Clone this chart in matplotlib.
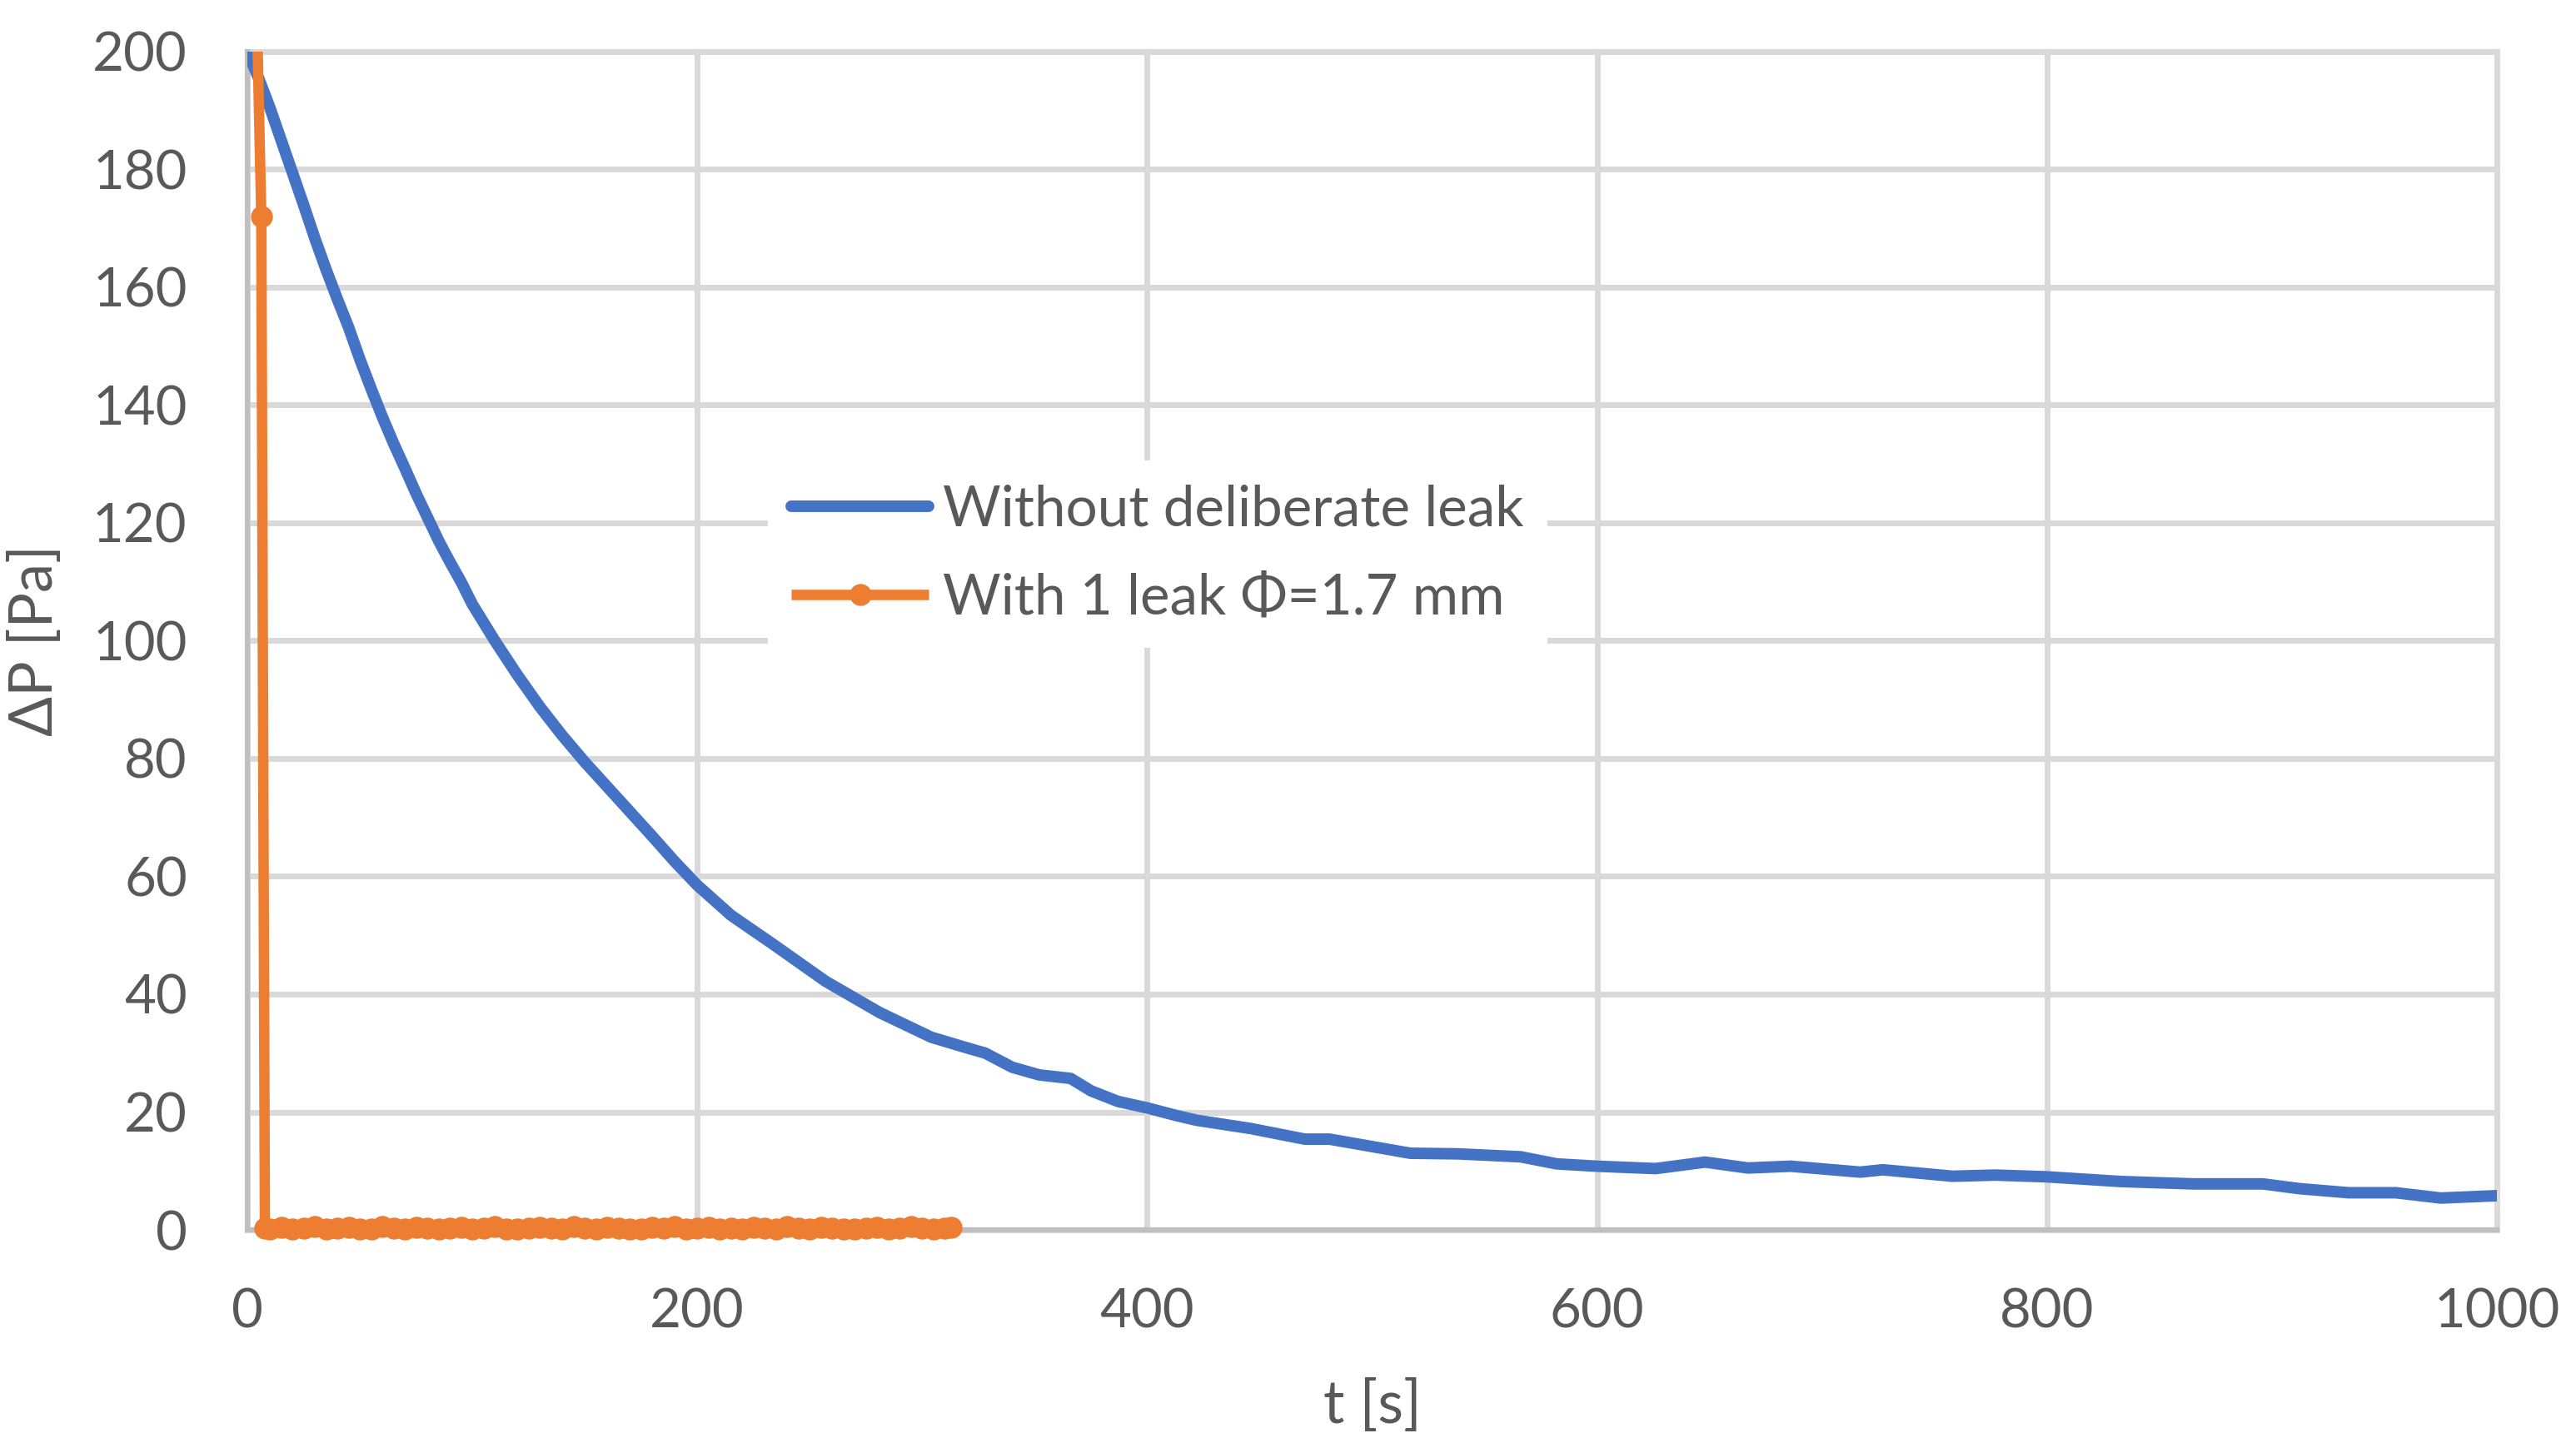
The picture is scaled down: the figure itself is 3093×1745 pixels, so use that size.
import matplotlib
matplotlib.use("Agg")
import matplotlib.pyplot as plt

plt.rcParams['font.family'] = ['Lato', 'Noto Sans', 'DejaVu Sans']

# without deliberate leak
t_blue = [0, 5, 10, 15, 20, 25, 30, 35, 40, 45, 50, 55, 60, 65, 70, 75, 80, 85, 90, 95,
          100, 110, 120, 130, 140, 150, 160, 170, 180, 190, 200, 215, 234, 257, 281,
          304, 318, 328, 340, 352, 366, 375, 387, 400, 413, 422, 446, 470, 481, 493,
          517, 538, 566, 582, 600, 626, 648, 667, 686, 717, 727, 758, 777, 800, 833,
          865, 896, 912, 934, 955, 975, 1000]
p_blue = [200, 195.5, 190.5, 185, 179.5, 174, 168.3, 163, 158, 153.2, 147.8, 142.8, 138,
          133.5, 129.3, 125, 121, 117, 113.4, 110, 106.2, 100, 94.2, 88.8, 83.9, 79.4,
          75.2, 71, 66.8, 62.5, 58.5, 53.4, 48.4, 42.2, 36.9, 32.7, 31.1, 30, 27.6, 26.3,
          25.7, 23.6, 21.8, 20.7, 19.4, 18.6, 17.2, 15.4, 15.4, 14.6, 13, 12.9, 12.4,
          11.2, 10.8, 10.4, 11.5, 10.5, 10.8, 9.8, 10.2, 9.1, 9.3, 9.0, 8.2, 7.8, 7.8,
          7.0, 6.3, 6.3, 5.4, 5.8]

# with 1 leak
t_orange = [4.6, 6.2, 7.8, 10, 15, 20, 25, 30, 35, 40, 45, 50, 55, 60, 65, 70, 75, 80,
            85, 90, 95, 100, 105, 110, 115, 120, 125, 130, 135, 140, 145, 150, 155, 160,
            165, 170, 175, 180, 185, 190, 195, 200, 205, 210, 215, 220, 225, 230, 235,
            240, 245, 250, 255, 260, 265, 270, 275, 280, 285, 290, 295, 300, 305, 310,
            313]
p_orange = [200, 172, 0.3, 0.2, 0.4, 0.1, 0.3, 0.5, 0.2, 0.3, 0.4, 0.1, 0.2, 0.5, 0.3,
            0.2, 0.4, 0.3, 0.1, 0.3, 0.4, 0.2, 0.3, 0.5, 0.2, 0.1, 0.3, 0.4, 0.3, 0.2,
            0.5, 0.3, 0.2, 0.4, 0.3, 0.1, 0.2, 0.4, 0.3, 0.5, 0.2, 0.3, 0.4, 0.2, 0.3,
            0.1, 0.4, 0.3, 0.2, 0.5, 0.3, 0.2, 0.4, 0.3, 0.2, 0.1, 0.3, 0.4, 0.2, 0.3,
            0.5, 0.3, 0.2, 0.3, 0.4]

x_ticks = [0, 200, 400, 600, 800, 1000]
y_ticks = list(range(0, 201, 20))

txt = '#595959'
fig = plt.figure(figsize=(30.93, 17.45), dpi=100)
ax = fig.add_axes([0.09602, 0.15358, 0.8733, 0.8109])

ax.plot(t_blue, p_blue, color='#4472C4', lw=10, solid_capstyle='round',
        solid_joinstyle='round', label='Without deliberate leak', zorder=3)
# first point sits on the top edge (curve runs off the scale), so no marker there
ax.plot(t_orange, p_orange, color='#ED7D31', lw=9, marker='o', markersize=18,
        markevery=list(range(1, len(t_orange))), solid_capstyle='butt',
        label='With 1 leak Φ=1.7 mm', zorder=4, clip_on=False)

ax.set_xlim(0, 1000)
ax.set_ylim(0, 200)
ax.set_xticks(x_ticks)
ax.set_yticks(y_ticks)

ax.set_axisbelow(True)
ax.grid(True, color='#D9D9D9', lw=5)
for g in ax.get_xgridlines() + ax.get_ygridlines():
    g.set_clip_on(False)

for s in ['top', 'right']:
    ax.spines[s].set_visible(False)
for s in ['left', 'bottom']:
    ax.spines[s].set_color('#BFBFBF')
    ax.spines[s].set_linewidth(4.5)
    ax.spines[s].set_zorder(2.5)

ax.tick_params(length=0, labelsize=47, labelcolor=txt)
ax.tick_params(axis='y', pad=52)
ax.tick_params(axis='x', pad=50)

ax.set_xlabel('t [s]', fontsize=51, color=txt)
ax.set_ylabel('ΔP [Pa]', fontsize=51, color=txt)
ax.xaxis.set_label_coords(0.5, -0.1495)
ax.yaxis.set_label_coords(-0.0944, 0.5)
ax.xaxis.label.set_va('center')
ax.yaxis.label.set_va('center')

leg = ax.legend(loc='upper left', bbox_to_anchor=(0.2314, 0.653), borderaxespad=0,
                fontsize=48.5, frameon=True, fancybox=False, handlelength=2.45,
                handletextpad=0.25, labelspacing=0.66, borderpad=0.42)
leg.get_frame().set_facecolor('white')
leg.get_frame().set_edgecolor('none')
leg.get_frame().set_alpha(1)
for t in leg.get_texts():
    t.set_color(txt)

fig.savefig('out.png', dpi=100)
